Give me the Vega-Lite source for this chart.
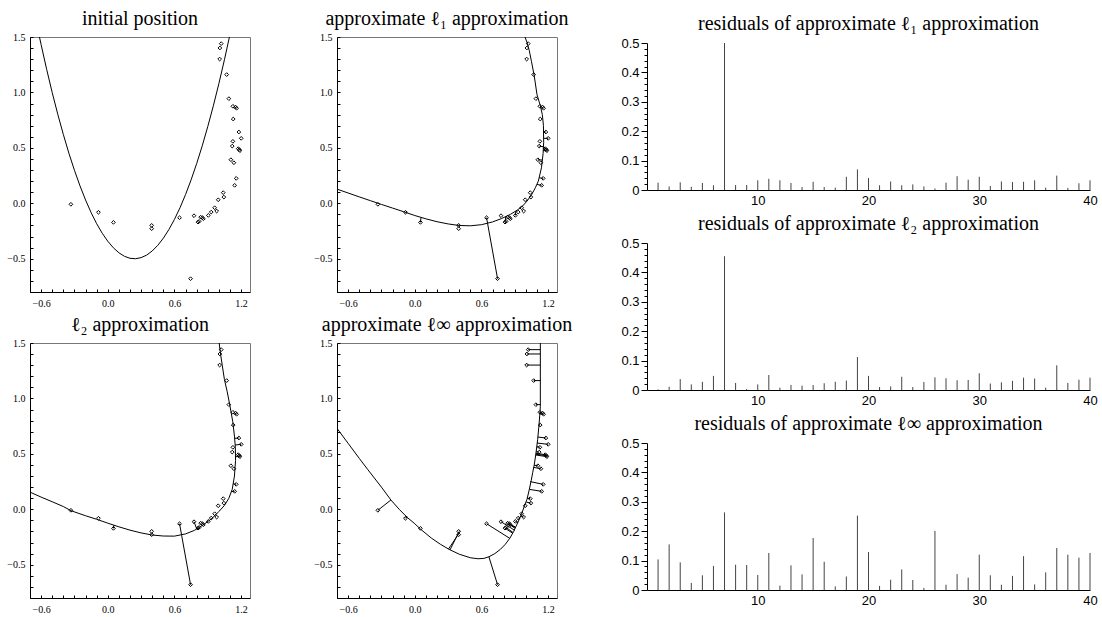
{
"$schema": "https://vega.github.io/schema/vega-lite/v6.json",
"padding": {"left": 6, "top": 8, "right": 2, "bottom": 0},
"background": "white",
"config": {
  "view": {"stroke": null},
  "axis": {"grid": false, "domainColor": "black", "tickColor": "black", "labelColor": "black", "domainWidth": 1, "tickWidth": 1, "labelOverlap": false, "labelFlush": false, "tickCount": 100},
  "title": {"font": "Liberation Serif", "fontSize": 20, "fontWeight": "normal", "color": "black"}
},
"datasets": {
  "pts": [
    {"x": -0.332, "y": -0.009}, {"x": -0.084, "y": -0.081}, {"x": 0.051, "y": -0.172}, {"x": 0.395, "y": -0.199}, {"x": 0.395, "y": -0.229},
    {"x": 0.646, "y": -0.13}, {"x": 0.745, "y": -0.68},
    {"x": 0.776, "y": -0.112}, {"x": 0.812, "y": -0.170}, {"x": 0.822, "y": -0.163}, {"x": 0.836, "y": -0.125}, {"x": 0.851, "y": -0.130},
    {"x": 0.860, "y": -0.139}, {"x": 0.905, "y": -0.109}, {"x": 0.931, "y": -0.079}, {"x": 0.962, "y": -0.040}, {"x": 0.980, "y": -0.070},
    {"x": 0.994, "y": 0.032}, {"x": 1.039, "y": 0.096}, {"x": 1.045, "y": 0.056},
    {"x": 1.180, "y": 0.643}, {"x": 1.201, "y": 0.586}, {"x": 1.126, "y": 0.559}, {"x": 1.120, "y": 0.516}, {"x": 1.174, "y": 0.493},
    {"x": 1.183, "y": 0.484}, {"x": 1.189, "y": 0.475}, {"x": 1.108, "y": 0.393}, {"x": 1.135, "y": 0.366}, {"x": 1.156, "y": 0.225},
    {"x": 1.142, "y": 0.162},
    {"x": 1.021, "y": 1.440}, {"x": 1.009, "y": 1.401}, {"x": 1.007, "y": 1.301}, {"x": 1.070, "y": 1.161}, {"x": 1.090, "y": 0.944},
    {"x": 1.126, "y": 0.875}, {"x": 1.150, "y": 0.868}, {"x": 1.159, "y": 0.857}, {"x": 1.129, "y": 0.760}
  ],
  "curves": [
    {"p": "init", "o": 0, "x": -0.63, "y": 1.571}, {"p": "init", "o": 1, "x": -0.6, "y": 1.431}, {"p": "init", "o": 2, "x": -0.55, "y": 1.208},
    {"p": "init", "o": 3, "x": -0.5, "y": 0.998}, {"p": "init", "o": 4, "x": -0.45, "y": 0.803}, {"p": "init", "o": 5, "x": -0.4, "y": 0.621},
    {"p": "init", "o": 6, "x": -0.35, "y": 0.452}, {"p": "init", "o": 7, "x": -0.3, "y": 0.298}, {"p": "init", "o": 8, "x": -0.25, "y": 0.157},
    {"p": "init", "o": 9, "x": -0.2, "y": 0.030}, {"p": "init", "o": 10, "x": -0.15, "y": -0.084}, {"p": "init", "o": 11, "x": -0.1, "y": -0.184},
    {"p": "init", "o": 12, "x": -0.05, "y": -0.270}, {"p": "init", "o": 13, "x": 0.0, "y": -0.342}, {"p": "init", "o": 14, "x": 0.05, "y": -0.401},
    {"p": "init", "o": 15, "x": 0.1, "y": -0.446}, {"p": "init", "o": 16, "x": 0.15, "y": -0.478}, {"p": "init", "o": 17, "x": 0.2, "y": -0.496},
    {"p": "init", "o": 18, "x": 0.25, "y": -0.500}, {"p": "init", "o": 19, "x": 0.3, "y": -0.490}, {"p": "init", "o": 20, "x": 0.35, "y": -0.467},
    {"p": "init", "o": 21, "x": 0.4, "y": -0.430}, {"p": "init", "o": 22, "x": 0.45, "y": -0.379}, {"p": "init", "o": 23, "x": 0.5, "y": -0.315},
    {"p": "init", "o": 24, "x": 0.55, "y": -0.237}, {"p": "init", "o": 25, "x": 0.6, "y": -0.145}, {"p": "init", "o": 26, "x": 0.65, "y": -0.040},
    {"p": "init", "o": 27, "x": 0.7, "y": 0.079}, {"p": "init", "o": 28, "x": 0.75, "y": 0.212}, {"p": "init", "o": 29, "x": 0.8, "y": 0.358},
    {"p": "init", "o": 30, "x": 0.85, "y": 0.518}, {"p": "init", "o": 31, "x": 0.9, "y": 0.692}, {"p": "init", "o": 32, "x": 0.95, "y": 0.879},
    {"p": "init", "o": 33, "x": 1.0, "y": 1.080}, {"p": "init", "o": 34, "x": 1.05, "y": 1.295}, {"p": "init", "o": 35, "x": 1.1, "y": 1.524},

    {"p": "l1", "o": 0, "x": -0.70, "y": 0.128}, {"p": "l1", "o": 1, "x": -0.6, "y": 0.093}, {"p": "l1", "o": 2, "x": -0.5, "y": 0.058},
    {"p": "l1", "o": 3, "x": -0.4, "y": 0.024}, {"p": "l1", "o": 4, "x": -0.3, "y": -0.01}, {"p": "l1", "o": 5, "x": -0.2, "y": -0.043},
    {"p": "l1", "o": 6, "x": -0.1, "y": -0.076}, {"p": "l1", "o": 7, "x": 0.0, "y": -0.11}, {"p": "l1", "o": 8, "x": 0.1, "y": -0.14},
    {"p": "l1", "o": 9, "x": 0.2, "y": -0.166}, {"p": "l1", "o": 10, "x": 0.3, "y": -0.186}, {"p": "l1", "o": 11, "x": 0.4, "y": -0.2},
    {"p": "l1", "o": 12, "x": 0.5, "y": -0.203}, {"p": "l1", "o": 13, "x": 0.6, "y": -0.193}, {"p": "l1", "o": 14, "x": 0.7, "y": -0.168},
    {"p": "l1", "o": 15, "x": 0.78, "y": -0.138}, {"p": "l1", "o": 16, "x": 0.86, "y": -0.1}, {"p": "l1", "o": 17, "x": 0.92, "y": -0.063},
    {"p": "l1", "o": 18, "x": 0.97, "y": -0.025}, {"p": "l1", "o": 19, "x": 1.01, "y": 0.02}, {"p": "l1", "o": 20, "x": 1.05, "y": 0.075},
    {"p": "l1", "o": 21, "x": 1.085, "y": 0.14}, {"p": "l1", "o": 22, "x": 1.112, "y": 0.2}, {"p": "l1", "o": 23, "x": 1.14, "y": 0.32},
    {"p": "l1", "o": 24, "x": 1.155, "y": 0.45}, {"p": "l1", "o": 25, "x": 1.16, "y": 0.55}, {"p": "l1", "o": 26, "x": 1.158, "y": 0.7},
    {"p": "l1", "o": 27, "x": 1.148, "y": 0.8}, {"p": "l1", "o": 28, "x": 1.13, "y": 0.88}, {"p": "l1", "o": 29, "x": 1.1, "y": 0.98},
    {"p": "l1", "o": 30, "x": 1.075, "y": 1.15}, {"p": "l1", "o": 31, "x": 1.05, "y": 1.28}, {"p": "l1", "o": 32, "x": 1.03, "y": 1.38},
    {"p": "l1", "o": 33, "x": 1.01, "y": 1.45}, {"p": "l1", "o": 34, "x": 0.985, "y": 1.52},

    {"p": "l2", "o": 0, "x": -0.70, "y": 0.155}, {"p": "l2", "o": 1, "x": -0.6, "y": 0.11}, {"p": "l2", "o": 2, "x": -0.5, "y": 0.068},
    {"p": "l2", "o": 3, "x": -0.4, "y": 0.025}, {"p": "l2", "o": 4, "x": -0.33, "y": -0.013}, {"p": "l2", "o": 5, "x": -0.2, "y": -0.058},
    {"p": "l2", "o": 6, "x": -0.1, "y": -0.09}, {"p": "l2", "o": 7, "x": 0.0, "y": -0.125}, {"p": "l2", "o": 8, "x": 0.1, "y": -0.158},
    {"p": "l2", "o": 9, "x": 0.2, "y": -0.188}, {"p": "l2", "o": 10, "x": 0.3, "y": -0.213}, {"p": "l2", "o": 11, "x": 0.4, "y": -0.232},
    {"p": "l2", "o": 12, "x": 0.5, "y": -0.241}, {"p": "l2", "o": 13, "x": 0.6, "y": -0.242}, {"p": "l2", "o": 14, "x": 0.7, "y": -0.222},
    {"p": "l2", "o": 15, "x": 0.78, "y": -0.19}, {"p": "l2", "o": 16, "x": 0.86, "y": -0.14}, {"p": "l2", "o": 17, "x": 0.94, "y": -0.08},
    {"p": "l2", "o": 18, "x": 1.0, "y": -0.02}, {"p": "l2", "o": 19, "x": 1.05, "y": 0.035}, {"p": "l2", "o": 20, "x": 1.09, "y": 0.1},
    {"p": "l2", "o": 21, "x": 1.12, "y": 0.18}, {"p": "l2", "o": 22, "x": 1.14, "y": 0.3}, {"p": "l2", "o": 23, "x": 1.15, "y": 0.44},
    {"p": "l2", "o": 24, "x": 1.148, "y": 0.56}, {"p": "l2", "o": 25, "x": 1.14, "y": 0.66}, {"p": "l2", "o": 26, "x": 1.125, "y": 0.79},
    {"p": "l2", "o": 27, "x": 1.1, "y": 0.93}, {"p": "l2", "o": 28, "x": 1.075, "y": 1.06}, {"p": "l2", "o": 29, "x": 1.05, "y": 1.17},
    {"p": "l2", "o": 30, "x": 1.03, "y": 1.3}, {"p": "l2", "o": 31, "x": 1.015, "y": 1.4}, {"p": "l2", "o": 32, "x": 1.0, "y": 1.52},

    {"p": "linf", "o": 0, "x": -0.70, "y": 0.73}, {"p": "linf", "o": 1, "x": -0.6, "y": 0.595}, {"p": "linf", "o": 2, "x": -0.5, "y": 0.46},
    {"p": "linf", "o": 3, "x": -0.425, "y": 0.361}, {"p": "linf", "o": 4, "x": -0.3, "y": 0.2}, {"p": "linf", "o": 5, "x": -0.215, "y": 0.084},
    {"p": "linf", "o": 6, "x": -0.14, "y": 0.0}, {"p": "linf", "o": 7, "x": -0.066, "y": -0.075}, {"p": "linf", "o": 8, "x": 0.0, "y": -0.13},
    {"p": "linf", "o": 9, "x": 0.054, "y": -0.181}, {"p": "linf", "o": 10, "x": 0.15, "y": -0.26}, {"p": "linf", "o": 11, "x": 0.23, "y": -0.315},
    {"p": "linf", "o": 12, "x": 0.308, "y": -0.361}, {"p": "linf", "o": 13, "x": 0.4, "y": -0.405}, {"p": "linf", "o": 14, "x": 0.5, "y": -0.437},
    {"p": "linf", "o": 15, "x": 0.57, "y": -0.446}, {"p": "linf", "o": 16, "x": 0.622, "y": -0.443}, {"p": "linf", "o": 17, "x": 0.667, "y": -0.428},
    {"p": "linf", "o": 18, "x": 0.72, "y": -0.4}, {"p": "linf", "o": 19, "x": 0.771, "y": -0.361}, {"p": "linf", "o": 20, "x": 0.815, "y": -0.315},
    {"p": "linf", "o": 21, "x": 0.855, "y": -0.262}, {"p": "linf", "o": 22, "x": 0.89, "y": -0.2}, {"p": "linf", "o": 23, "x": 0.927, "y": -0.12},
    {"p": "linf", "o": 24, "x": 0.96, "y": -0.045}, {"p": "linf", "o": 25, "x": 0.987, "y": 0.03}, {"p": "linf", "o": 26, "x": 1.01, "y": 0.09},
    {"p": "linf", "o": 27, "x": 1.031, "y": 0.18}, {"p": "linf", "o": 28, "x": 1.048, "y": 0.26}, {"p": "linf", "o": 29, "x": 1.061, "y": 0.33},
    {"p": "linf", "o": 30, "x": 1.075, "y": 0.4}, {"p": "linf", "o": 31, "x": 1.09, "y": 0.5}, {"p": "linf", "o": 32, "x": 1.106, "y": 0.63},
    {"p": "linf", "o": 33, "x": 1.117, "y": 0.75}, {"p": "linf", "o": 34, "x": 1.125, "y": 0.85}, {"p": "linf", "o": 35, "x": 1.13, "y": 0.93},
    {"p": "linf", "o": 36, "x": 1.13, "y": 1.52}
  ],
  "segs": [
    {"p": "l1", "x": 0.745, "y": -0.68, "x2": 0.655, "y2": -0.18}, {"p": "l1", "x": 0.646, "y": -0.13, "x2": 0.655, "y2": -0.18},
    {"p": "l1", "x": 0.051, "y": -0.172, "x2": 0.056, "y2": -0.13}, {"p": "l1", "x": 1.180, "y": 0.643, "x2": 1.159, "y2": 0.643},
    {"p": "l1", "x": 1.201, "y": 0.586, "x2": 1.16, "y2": 0.586}, {"p": "l1", "x": 1.156, "y": 0.225, "x2": 1.12, "y2": 0.23},
    {"p": "l1", "x": 1.142, "y": 0.162, "x2": 1.10, "y2": 0.17}, {"p": "l1", "x": 1.174, "y": 0.493, "x2": 1.156, "y2": 0.49},
    {"p": "l1", "x": 1.189, "y": 0.475, "x2": 1.156, "y2": 0.475}, {"p": "l1", "x": 1.12, "y": 0.516, "x2": 1.157, "y2": 0.51},
    {"p": "l1", "x": 1.108, "y": 0.393, "x2": 1.148, "y2": 0.39}, {"p": "l1", "x": 0.812, "y": -0.17, "x2": 0.82, "y2": -0.12},
    {"p": "l1", "x": 0.905, "y": -0.109, "x2": 0.91, "y2": -0.07},

    {"p": "l2", "x": 0.745, "y": -0.68, "x2": 0.665, "y2": -0.236}, {"p": "l2", "x": 0.646, "y": -0.13, "x2": 0.665, "y2": -0.236},
    {"p": "l2", "x": 0.776, "y": -0.112, "x2": 0.80, "y2": -0.175}, {"p": "l2", "x": 1.180, "y": 0.643, "x2": 1.14, "y2": 0.64},
    {"p": "l2", "x": 1.201, "y": 0.586, "x2": 1.146, "y2": 0.58}, {"p": "l2", "x": 1.156, "y": 0.225, "x2": 1.128, "y2": 0.23},
    {"p": "l2", "x": 1.142, "y": 0.162, "x2": 1.11, "y2": 0.16}, {"p": "l2", "x": 1.189, "y": 0.475, "x2": 1.15, "y2": 0.475},
    {"p": "l2", "x": 0.051, "y": -0.172, "x2": 0.055, "y2": -0.143},

    {"p": "linf", "x": 1.021, "y": 1.44, "x2": 1.13, "y2": 1.44}, {"p": "linf", "x": 1.009, "y": 1.401, "x2": 1.13, "y2": 1.401},
    {"p": "linf", "x": 1.007, "y": 1.301, "x2": 1.13, "y2": 1.301}, {"p": "linf", "x": 1.07, "y": 1.161, "x2": 1.13, "y2": 1.161},
    {"p": "linf", "x": 1.09, "y": 0.944, "x2": 1.13, "y2": 0.944}, {"p": "linf", "x": 1.15, "y": 0.868, "x2": 1.126, "y2": 0.875},
    {"p": "linf", "x": 1.159, "y": 0.857, "x2": 1.125, "y2": 0.862}, {"p": "linf", "x": 1.129, "y": 0.76, "x2": 1.118, "y2": 0.762},
    {"p": "linf", "x": 1.18, "y": 0.643, "x2": 1.107, "y2": 0.652}, {"p": "linf", "x": 1.201, "y": 0.586, "x2": 1.1, "y2": 0.598},
    {"p": "linf", "x": 1.126, "y": 0.559, "x2": 1.098, "y2": 0.565}, {"p": "linf", "x": 1.12, "y": 0.516, "x2": 1.092, "y2": 0.52},
    {"p": "linf", "x": 1.174, "y": 0.493, "x2": 1.09, "y2": 0.505}, {"p": "linf", "x": 1.183, "y": 0.484, "x2": 1.089, "y2": 0.497},
    {"p": "linf", "x": 1.189, "y": 0.475, "x2": 1.088, "y2": 0.49}, {"p": "linf", "x": 1.108, "y": 0.393, "x2": 1.074, "y2": 0.398},
    {"p": "linf", "x": 1.135, "y": 0.366, "x2": 1.07, "y2": 0.378}, {"p": "linf", "x": 1.156, "y": 0.225, "x2": 1.038, "y2": 0.25},
    {"p": "linf", "x": 1.142, "y": 0.162, "x2": 1.03, "y2": 0.18}, {"p": "linf", "x": 1.039, "y": 0.096, "x2": 1.012, "y2": 0.1},
    {"p": "linf", "x": 1.045, "y": 0.056, "x2": 1.003, "y2": 0.065}, {"p": "linf", "x": 0.98, "y": -0.07, "x2": 0.952, "y2": -0.06},
    {"p": "linf", "x": 0.931, "y": -0.079, "x2": 0.945, "y2": -0.085}, {"p": "linf", "x": 0.905, "y": -0.109, "x2": 0.93, "y2": -0.12},
    {"p": "linf", "x": 0.86, "y": -0.139, "x2": 0.905, "y2": -0.165}, {"p": "linf", "x": 0.851, "y": -0.13, "x2": 0.905, "y2": -0.16},
    {"p": "linf", "x": 0.836, "y": -0.125, "x2": 0.9, "y2": -0.17}, {"p": "linf", "x": 0.822, "y": -0.163, "x2": 0.885, "y2": -0.21},
    {"p": "linf", "x": 0.812, "y": -0.17, "x2": 0.88, "y2": -0.215}, {"p": "linf", "x": 0.776, "y": -0.112, "x2": 0.9, "y2": -0.19},
    {"p": "linf", "x": 0.646, "y": -0.13, "x2": 0.855, "y2": -0.262}, {"p": "linf", "x": 0.745, "y": -0.68, "x2": 0.667, "y2": -0.428},
    {"p": "linf", "x": 0.40, "y": -0.199, "x2": 0.317, "y2": -0.366}, {"p": "linf", "x": 0.395, "y": -0.222, "x2": 0.303, "y2": -0.359},
    {"p": "linf", "x": -0.332, "y": -0.009, "x2": -0.215, "y2": 0.084}, {"p": "linf", "x": -0.084, "y": -0.081, "x2": -0.07, "y2": -0.063}
  ],
  "res": [
    {"f": "l1", "i": 1, "r": 0.025}, {"f": "l1", "i": 2, "r": 0.012}, {"f": "l1", "i": 3, "r": 0.026}, {"f": "l1", "i": 4, "r": 0.011},
    {"f": "l1", "i": 5, "r": 0.024}, {"f": "l1", "i": 6, "r": 0.016}, {"f": "l1", "i": 7, "r": 0.5}, {"f": "l1", "i": 8, "r": 0.017},
    {"f": "l1", "i": 9, "r": 0.017}, {"f": "l1", "i": 10, "r": 0.033}, {"f": "l1", "i": 11, "r": 0.038}, {"f": "l1", "i": 12, "r": 0.033},
    {"f": "l1", "i": 13, "r": 0.024}, {"f": "l1", "i": 14, "r": 0.010}, {"f": "l1", "i": 15, "r": 0.028}, {"f": "l1", "i": 16, "r": 0.010},
    {"f": "l1", "i": 17, "r": 0.008}, {"f": "l1", "i": 18, "r": 0.045}, {"f": "l1", "i": 19, "r": 0.07}, {"f": "l1", "i": 20, "r": 0.041},
    {"f": "l1", "i": 21, "r": 0.016}, {"f": "l1", "i": 22, "r": 0.029}, {"f": "l1", "i": 23, "r": 0.016}, {"f": "l1", "i": 24, "r": 0.019},
    {"f": "l1", "i": 25, "r": 0.012}, {"f": "l1", "i": 26, "r": 0.005}, {"f": "l1", "i": 27, "r": 0.025}, {"f": "l1", "i": 28, "r": 0.047},
    {"f": "l1", "i": 29, "r": 0.035}, {"f": "l1", "i": 30, "r": 0.045}, {"f": "l1", "i": 31, "r": 0.014}, {"f": "l1", "i": 32, "r": 0.029},
    {"f": "l1", "i": 33, "r": 0.027}, {"f": "l1", "i": 34, "r": 0.028}, {"f": "l1", "i": 35, "r": 0.033}, {"f": "l1", "i": 36, "r": 0.008},
    {"f": "l1", "i": 37, "r": 0.049}, {"f": "l1", "i": 38, "r": 0.007}, {"f": "l1", "i": 39, "r": 0.023}, {"f": "l1", "i": 40, "r": 0.033},

    {"f": "l2", "i": 1, "r": 0.002}, {"f": "l2", "i": 2, "r": 0.011}, {"f": "l2", "i": 3, "r": 0.037}, {"f": "l2", "i": 4, "r": 0.019},
    {"f": "l2", "i": 5, "r": 0.028}, {"f": "l2", "i": 6, "r": 0.048}, {"f": "l2", "i": 7, "r": 0.455}, {"f": "l2", "i": 8, "r": 0.024},
    {"f": "l2", "i": 9, "r": 0.003}, {"f": "l2", "i": 10, "r": 0.019}, {"f": "l2", "i": 11, "r": 0.051}, {"f": "l2", "i": 12, "r": 0.008},
    {"f": "l2", "i": 13, "r": 0.017}, {"f": "l2", "i": 14, "r": 0.015}, {"f": "l2", "i": 15, "r": 0.017}, {"f": "l2", "i": 16, "r": 0.023},
    {"f": "l2", "i": 17, "r": 0.028}, {"f": "l2", "i": 18, "r": 0.032}, {"f": "l2", "i": 19, "r": 0.112}, {"f": "l2", "i": 20, "r": 0.048},
    {"f": "l2", "i": 21, "r": 0.010}, {"f": "l2", "i": 22, "r": 0.012}, {"f": "l2", "i": 23, "r": 0.045}, {"f": "l2", "i": 24, "r": 0.010},
    {"f": "l2", "i": 25, "r": 0.027}, {"f": "l2", "i": 26, "r": 0.043}, {"f": "l2", "i": 27, "r": 0.040}, {"f": "l2", "i": 28, "r": 0.033},
    {"f": "l2", "i": 29, "r": 0.034}, {"f": "l2", "i": 30, "r": 0.057}, {"f": "l2", "i": 31, "r": 0.022}, {"f": "l2", "i": 32, "r": 0.026},
    {"f": "l2", "i": 33, "r": 0.031}, {"f": "l2", "i": 34, "r": 0.042}, {"f": "l2", "i": 35, "r": 0.039}, {"f": "l2", "i": 36, "r": 0.008},
    {"f": "l2", "i": 37, "r": 0.084}, {"f": "l2", "i": 38, "r": 0.024}, {"f": "l2", "i": 39, "r": 0.035}, {"f": "l2", "i": 40, "r": 0.042},

    {"f": "linf", "i": 1, "r": 0.104}, {"f": "linf", "i": 2, "r": 0.155}, {"f": "linf", "i": 3, "r": 0.094}, {"f": "linf", "i": 4, "r": 0.024},
    {"f": "linf", "i": 5, "r": 0.050}, {"f": "linf", "i": 6, "r": 0.082}, {"f": "linf", "i": 7, "r": 0.264}, {"f": "linf", "i": 8, "r": 0.086},
    {"f": "linf", "i": 9, "r": 0.085}, {"f": "linf", "i": 10, "r": 0.051}, {"f": "linf", "i": 11, "r": 0.126}, {"f": "linf", "i": 12, "r": 0.015},
    {"f": "linf", "i": 13, "r": 0.084}, {"f": "linf", "i": 14, "r": 0.053}, {"f": "linf", "i": 15, "r": 0.177}, {"f": "linf", "i": 16, "r": 0.096},
    {"f": "linf", "i": 17, "r": 0.012}, {"f": "linf", "i": 18, "r": 0.046}, {"f": "linf", "i": 19, "r": 0.253}, {"f": "linf", "i": 20, "r": 0.129},
    {"f": "linf", "i": 21, "r": 0.014}, {"f": "linf", "i": 22, "r": 0.035}, {"f": "linf", "i": 23, "r": 0.070}, {"f": "linf", "i": 24, "r": 0.034},
    {"f": "linf", "i": 25, "r": 0.007}, {"f": "linf", "i": 26, "r": 0.201}, {"f": "linf", "i": 27, "r": 0.018}, {"f": "linf", "i": 28, "r": 0.054},
    {"f": "linf", "i": 29, "r": 0.042}, {"f": "linf", "i": 30, "r": 0.120}, {"f": "linf", "i": 31, "r": 0.050}, {"f": "linf", "i": 32, "r": 0.018},
    {"f": "linf", "i": 33, "r": 0.048}, {"f": "linf", "i": 34, "r": 0.115}, {"f": "linf", "i": 35, "r": 0.019}, {"f": "linf", "i": 36, "r": 0.060},
    {"f": "linf", "i": 37, "r": 0.143}, {"f": "linf", "i": 38, "r": 0.120}, {"f": "linf", "i": 39, "r": 0.110}, {"f": "linf", "i": 40, "r": 0.126}
  ]
},
"spacing": 47,
"hconcat": [
  {
    "spacing": 5,
    "vconcat": [
      {
        "spacing": 62,
        "hconcat": [
          {
            "width": 220, "height": 255,
            "title": {"text": "initial position", "offset": 3},
            "view": {"stroke": "#777"},
            "layer": [
              {"data": {"name": "curves"}, "transform": [{"filter": "datum.p == 'init'"}],
               "mark": {"type": "line", "clip": true, "color": "black", "strokeWidth": 1},
               "encoding": {
                 "x": {"field": "x", "type": "quantitative", "title": null, "scale": {"domain": [-0.7, 1.28], "nice": false, "zero": false},
                       "axis": {"values": [-0.6,-0.5,-0.4,-0.3,-0.2,-0.1,0,0.1,0.2,0.3,0.4,0.5,0.6,0.7,0.8,0.9,1.0,1.1,1.2], "labelExpr": "abs(round(datum.value*10)) % 6 == 0 ? format(datum.value, '.1f') : ''", "tickSize": -3, "labelPadding": 9, "labelFont": "Liberation Serif", "labelFontSize": 10}},
                 "y": {"field": "y", "type": "quantitative", "title": null, "scale": {"domain": [-0.8, 1.5], "nice": false, "zero": false},
                       "axis": {"values": [-0.8,-0.7,-0.6,-0.5,-0.4,-0.3,-0.2,-0.1,0,0.1,0.2,0.3,0.4,0.5,0.6,0.7,0.8,0.9,1.0,1.1,1.2,1.3,1.4,1.5], "labelExpr": "abs(round(datum.value*10)) % 5 == 0 ? format(datum.value, '.1f') : ''", "tickSize": -3, "labelPadding": 8, "labelFont": "Liberation Serif", "labelFontSize": 10}},
                 "order": {"field": "o", "type": "quantitative"}
               }},
              {"data": {"name": "pts"}, "mark": {"type": "point", "shape": "diamond", "filled": false, "size": 14, "color": "black", "strokeWidth": 1, "opacity": 1},
               "encoding": {"x": {"field": "x", "type": "quantitative"}, "y": {"field": "y", "type": "quantitative"}}}
            ]
          },
          {
            "width": 220, "height": 255,
            "title": {"text": "approximate ℓ₁ approximation", "offset": 3},
            "view": {"stroke": "#777"},
            "layer": [
              {"data": {"name": "curves"}, "transform": [{"filter": "datum.p == 'l1'"}],
               "mark": {"type": "line", "clip": true, "color": "black", "strokeWidth": 1},
               "encoding": {
                 "x": {"field": "x", "type": "quantitative", "title": null, "scale": {"domain": [-0.7, 1.28], "nice": false, "zero": false},
                       "axis": {"values": [-0.6,-0.5,-0.4,-0.3,-0.2,-0.1,0,0.1,0.2,0.3,0.4,0.5,0.6,0.7,0.8,0.9,1.0,1.1,1.2], "labelExpr": "abs(round(datum.value*10)) % 6 == 0 ? format(datum.value, '.1f') : ''", "tickSize": -3, "labelPadding": 9, "labelFont": "Liberation Serif", "labelFontSize": 10}},
                 "y": {"field": "y", "type": "quantitative", "title": null, "scale": {"domain": [-0.8, 1.5], "nice": false, "zero": false},
                       "axis": {"values": [-0.8,-0.7,-0.6,-0.5,-0.4,-0.3,-0.2,-0.1,0,0.1,0.2,0.3,0.4,0.5,0.6,0.7,0.8,0.9,1.0,1.1,1.2,1.3,1.4,1.5], "labelExpr": "abs(round(datum.value*10)) % 5 == 0 ? format(datum.value, '.1f') : ''", "tickSize": -3, "labelPadding": 8, "labelFont": "Liberation Serif", "labelFontSize": 10}},
                 "order": {"field": "o", "type": "quantitative"}
               }},
              {"data": {"name": "segs"}, "transform": [{"filter": "datum.p == 'l1'"}], "mark": {"type": "rule", "color": "black", "strokeWidth": 1},
               "encoding": {"x": {"field": "x", "type": "quantitative"}, "y": {"field": "y", "type": "quantitative"}, "x2": {"field": "x2"}, "y2": {"field": "y2"}}},
              {"data": {"name": "pts"}, "mark": {"type": "point", "shape": "diamond", "filled": false, "size": 14, "color": "black", "strokeWidth": 1, "opacity": 1},
               "encoding": {"x": {"field": "x", "type": "quantitative"}, "y": {"field": "y", "type": "quantitative"}}}
            ]
          }
        ]
      },
      {
        "spacing": 62,
        "hconcat": [
          {
            "width": 220, "height": 255,
            "title": {"text": "ℓ₂ approximation", "offset": 3},
            "view": {"stroke": "#777"},
            "layer": [
              {"data": {"name": "curves"}, "transform": [{"filter": "datum.p == 'l2'"}],
               "mark": {"type": "line", "clip": true, "color": "black", "strokeWidth": 1},
               "encoding": {
                 "x": {"field": "x", "type": "quantitative", "title": null, "scale": {"domain": [-0.7, 1.28], "nice": false, "zero": false},
                       "axis": {"values": [-0.6,-0.5,-0.4,-0.3,-0.2,-0.1,0,0.1,0.2,0.3,0.4,0.5,0.6,0.7,0.8,0.9,1.0,1.1,1.2], "labelExpr": "abs(round(datum.value*10)) % 6 == 0 ? format(datum.value, '.1f') : ''", "tickSize": -3, "labelPadding": 9, "labelFont": "Liberation Serif", "labelFontSize": 10}},
                 "y": {"field": "y", "type": "quantitative", "title": null, "scale": {"domain": [-0.8, 1.5], "nice": false, "zero": false},
                       "axis": {"values": [-0.8,-0.7,-0.6,-0.5,-0.4,-0.3,-0.2,-0.1,0,0.1,0.2,0.3,0.4,0.5,0.6,0.7,0.8,0.9,1.0,1.1,1.2,1.3,1.4,1.5], "labelExpr": "abs(round(datum.value*10)) % 5 == 0 ? format(datum.value, '.1f') : ''", "tickSize": -3, "labelPadding": 8, "labelFont": "Liberation Serif", "labelFontSize": 10}},
                 "order": {"field": "o", "type": "quantitative"}
               }},
              {"data": {"name": "segs"}, "transform": [{"filter": "datum.p == 'l2'"}], "mark": {"type": "rule", "color": "black", "strokeWidth": 1},
               "encoding": {"x": {"field": "x", "type": "quantitative"}, "y": {"field": "y", "type": "quantitative"}, "x2": {"field": "x2"}, "y2": {"field": "y2"}}},
              {"data": {"name": "pts"}, "mark": {"type": "point", "shape": "diamond", "filled": false, "size": 14, "color": "black", "strokeWidth": 1, "opacity": 1},
               "encoding": {"x": {"field": "x", "type": "quantitative"}, "y": {"field": "y", "type": "quantitative"}}}
            ]
          },
          {
            "width": 220, "height": 255,
            "title": {"text": "approximate ℓ∞ approximation", "offset": 3},
            "view": {"stroke": "#777"},
            "layer": [
              {"data": {"name": "curves"}, "transform": [{"filter": "datum.p == 'linf'"}],
               "mark": {"type": "line", "clip": true, "color": "black", "strokeWidth": 1},
               "encoding": {
                 "x": {"field": "x", "type": "quantitative", "title": null, "scale": {"domain": [-0.7, 1.28], "nice": false, "zero": false},
                       "axis": {"values": [-0.6,-0.5,-0.4,-0.3,-0.2,-0.1,0,0.1,0.2,0.3,0.4,0.5,0.6,0.7,0.8,0.9,1.0,1.1,1.2], "labelExpr": "abs(round(datum.value*10)) % 6 == 0 ? format(datum.value, '.1f') : ''", "tickSize": -3, "labelPadding": 9, "labelFont": "Liberation Serif", "labelFontSize": 10}},
                 "y": {"field": "y", "type": "quantitative", "title": null, "scale": {"domain": [-0.8, 1.5], "nice": false, "zero": false},
                       "axis": {"values": [-0.8,-0.7,-0.6,-0.5,-0.4,-0.3,-0.2,-0.1,0,0.1,0.2,0.3,0.4,0.5,0.6,0.7,0.8,0.9,1.0,1.1,1.2,1.3,1.4,1.5], "labelExpr": "abs(round(datum.value*10)) % 5 == 0 ? format(datum.value, '.1f') : ''", "tickSize": -3, "labelPadding": 8, "labelFont": "Liberation Serif", "labelFontSize": 10}},
                 "order": {"field": "o", "type": "quantitative"}
               }},
              {"data": {"name": "segs"}, "transform": [{"filter": "datum.p == 'linf'"}], "mark": {"type": "rule", "color": "black", "strokeWidth": 1},
               "encoding": {"x": {"field": "x", "type": "quantitative"}, "y": {"field": "y", "type": "quantitative"}, "x2": {"field": "x2"}, "y2": {"field": "y2"}}},
              {"data": {"name": "pts"}, "mark": {"type": "point", "shape": "diamond", "filled": false, "size": 14, "color": "black", "strokeWidth": 1, "opacity": 1},
               "encoding": {"x": {"field": "x", "type": "quantitative"}, "y": {"field": "y", "type": "quantitative"}}}
            ]
          }
        ]
      }
    ]
  },
  {
    "spacing": -27,
    "vconcat": [
      {
        "width": 443, "height": 1,
        "data": {"values": [{"a": 1}]},
        "mark": {"type": "point", "opacity": 0},
        "encoding": {}
      },
      {
        "spacing": 7,
        "vconcat": [
          {
            "width": 443, "height": 147,
            "title": {"text": "residuals of approximate ℓ₁ approximation", "offset": 3},
            "data": {"name": "res"}, "transform": [{"filter": "datum.f == 'l1'"}],
            "mark": {"type": "rule", "color": "#444", "strokeWidth": 1},
            "encoding": {
              "x": {"field": "i", "type": "quantitative", "title": null, "scale": {"domain": [0, 40], "nice": false, "zero": false},
                    "axis": {"values": [10, 20, 30, 40], "format": "d", "ticks": false, "labelPadding": 4, "labelFont": "Liberation Sans", "labelFontSize": 13}},
              "y": {"field": "r", "type": "quantitative", "title": null, "scale": {"domain": [0, 0.5], "nice": false},
                    "axis": {"values": [0,0.02,0.04,0.06,0.08,0.1,0.12,0.14,0.16,0.18,0.2,0.22,0.24,0.26,0.28,0.3,0.32,0.34,0.36,0.38,0.4,0.42,0.44,0.46,0.48,0.5],
                             "labelExpr": "round(datum.value*100) % 10 == 0 ? (datum.value == 0 ? '0' : format(datum.value, '.1f')) : ''",
                             "tickSize": {"condition": {"test": "round(datum.value*100) % 10 == 0", "value": 6}, "value": 3},
                             "labelPadding": 2, "labelFont": "Liberation Sans", "labelFontSize": 13}},
              "y2": {"datum": 0}
            }
          },
          {
            "width": 443, "height": 147,
            "title": {"text": "residuals of approximate ℓ₂ approximation", "offset": 3},
            "data": {"name": "res"}, "transform": [{"filter": "datum.f == 'l2'"}],
            "mark": {"type": "rule", "color": "#444", "strokeWidth": 1},
            "encoding": {
              "x": {"field": "i", "type": "quantitative", "title": null, "scale": {"domain": [0, 40], "nice": false, "zero": false},
                    "axis": {"values": [10, 20, 30, 40], "format": "d", "ticks": false, "labelPadding": 4, "labelFont": "Liberation Sans", "labelFontSize": 13}},
              "y": {"field": "r", "type": "quantitative", "title": null, "scale": {"domain": [0, 0.5], "nice": false},
                    "axis": {"values": [0,0.02,0.04,0.06,0.08,0.1,0.12,0.14,0.16,0.18,0.2,0.22,0.24,0.26,0.28,0.3,0.32,0.34,0.36,0.38,0.4,0.42,0.44,0.46,0.48,0.5],
                             "labelExpr": "round(datum.value*100) % 10 == 0 ? (datum.value == 0 ? '0' : format(datum.value, '.1f')) : ''",
                             "tickSize": {"condition": {"test": "round(datum.value*100) % 10 == 0", "value": 6}, "value": 3},
                             "labelPadding": 2, "labelFont": "Liberation Sans", "labelFontSize": 13}},
              "y2": {"datum": 0}
            }
          },
          {
            "width": 443, "height": 147,
            "title": {"text": "residuals of approximate ℓ∞ approximation", "offset": 3},
            "data": {"name": "res"}, "transform": [{"filter": "datum.f == 'linf'"}],
            "mark": {"type": "rule", "color": "#444", "strokeWidth": 1},
            "encoding": {
              "x": {"field": "i", "type": "quantitative", "title": null, "scale": {"domain": [0, 40], "nice": false, "zero": false},
                    "axis": {"values": [10, 20, 30, 40], "format": "d", "ticks": false, "labelPadding": 4, "labelFont": "Liberation Sans", "labelFontSize": 13}},
              "y": {"field": "r", "type": "quantitative", "title": null, "scale": {"domain": [0, 0.5], "nice": false},
                    "axis": {"values": [0,0.02,0.04,0.06,0.08,0.1,0.12,0.14,0.16,0.18,0.2,0.22,0.24,0.26,0.28,0.3,0.32,0.34,0.36,0.38,0.4,0.42,0.44,0.46,0.48,0.5],
                             "labelExpr": "round(datum.value*100) % 10 == 0 ? (datum.value == 0 ? '0' : format(datum.value, '.1f')) : ''",
                             "tickSize": {"condition": {"test": "round(datum.value*100) % 10 == 0", "value": 6}, "value": 3},
                             "labelPadding": 2, "labelFont": "Liberation Sans", "labelFontSize": 13}},
              "y2": {"datum": 0}
            }
          }
        ]
      }
    ]
  }
]
}
